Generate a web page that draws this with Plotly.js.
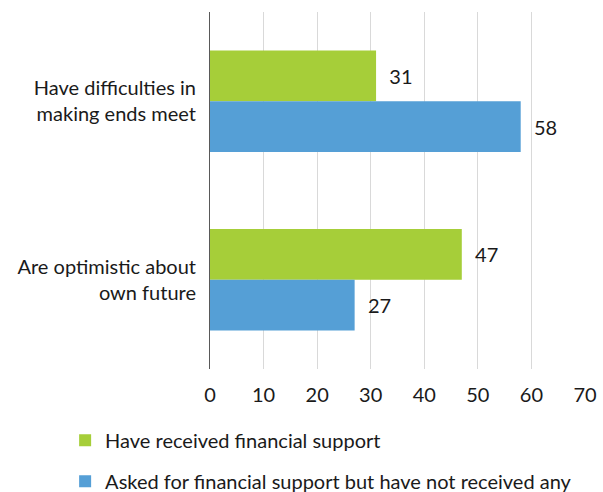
<!DOCTYPE html>
<html><head><meta charset="utf-8">
<script src="https://cdn.plot.ly/plotly-3.0.1.min.js"></script>
<style>body{margin:0}#c{width:603px;height:492px}</style>
</head><body><div id="c"></div>
<script>
const categories = ["Have difficulties in<br>making ends meet", "Are optimistic about<br>own future"];
const received = [31, 47];
const notReceived = [58, 27];
const seriesNames = ["Have received financial support", "Asked for financial support but have not received any"];
const xTicks = [0, 10, 20, 30, 40, 50, 60, 70];

const font = {family: "Lato, sans-serif", size: 20, color: "#1a1a1a"};
const traces = [
  {type: "bar", orientation: "h", y: categories, x: received, name: seriesNames[0],
   marker: {color: "#a6ce39"}, text: received.map(v => "  " + v), textposition: "outside",
   textfont: font, cliponaxis: false, legendgroup: "a"},
  {type: "bar", orientation: "h", y: categories, x: notReceived, name: seriesNames[1],
   marker: {color: "#559fd6"}, text: notReceived.map(v => "  " + v), textposition: "outside",
   textfont: font, cliponaxis: false, legendgroup: "b"}
];
const layout = {
  width: 603, height: 492,
  margin: {l: 210, r: 18, t: 12, b: 123, autoexpand: false},
  font: font,
  barmode: "group", bargap: 0.43, bargroupgap: 0,
  paper_bgcolor: "#ffffff", plot_bgcolor: "#ffffff",
  xaxis: {range: [0, 70], tickvals: xTicks, showgrid: true, gridcolor: "#d9d9d9", gridwidth: 1, automargin: false,
          zeroline: false, showline: false, ticks: "", ticklabelstandoff: 12, tickfont: font, tickangle: 0},
  yaxis: {autorange: "reversed", showgrid: false, zeroline: false, showline: true, linecolor: "#595959", linewidth: 1,
          ticks: "", ticklabelstandoff: 9, tickfont: font, automargin: false},
  showlegend: true,
  legend: {orientation: "v", x: 0.108, xanchor: "left", y: 0.145, yanchor: "top", xref: "container", yref: "container",
           font: font, tracegroupgap: 12, traceorder: "grouped"}
};
Plotly.newPlot("c", traces, layout, {displayModeBar: false, staticPlot: true});
</script></body></html>
